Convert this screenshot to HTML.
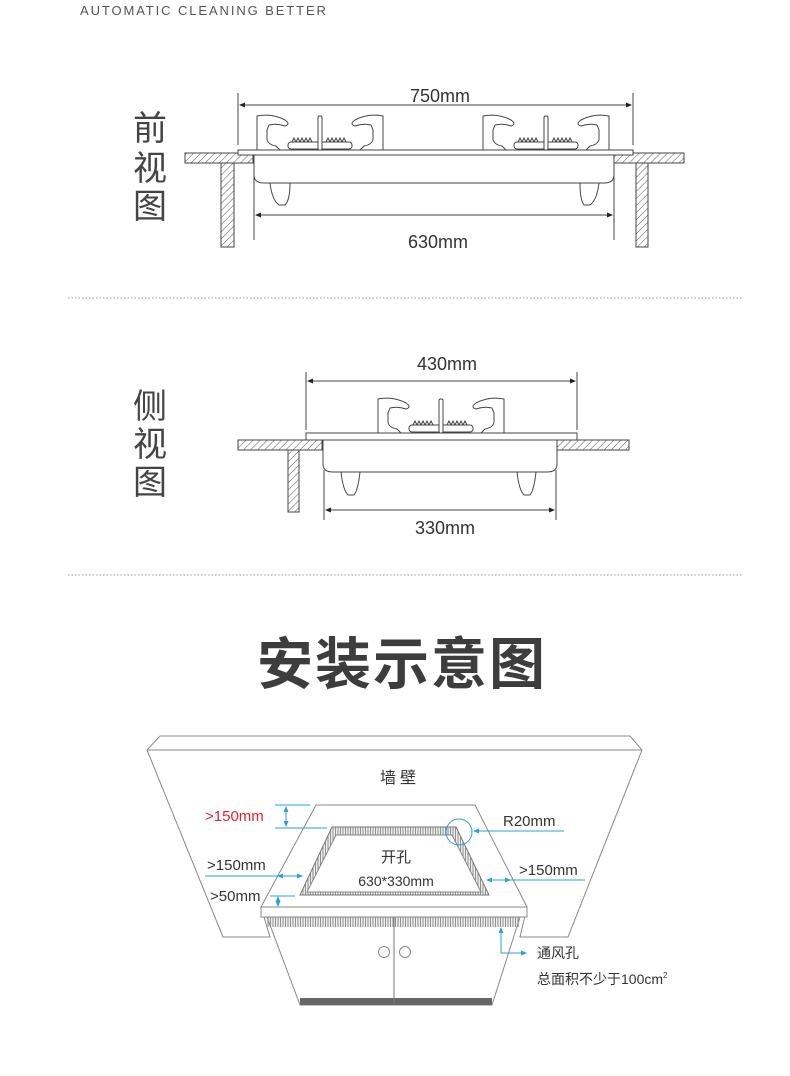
<!DOCTYPE html>
<html><head><meta charset="utf-8"><style>
html,body{margin:0;padding:0;background:#fff;}
svg{display:block;}
text{font-family:"Liberation Sans","Noto Sans CJK SC",sans-serif;}
</style></head><body>
<svg width="790" height="1076" viewBox="0 0 790 1076" xmlns="http://www.w3.org/2000/svg">
<defs>
<pattern id="h" width="5" height="5" patternUnits="userSpaceOnUse" patternTransform="rotate(45)">
<rect width="5" height="5" fill="#fff"/><line x1="0" y1="0" x2="0" y2="5" stroke="#555" stroke-width="1"/></pattern>
<pattern id="v" width="2.5" height="4" patternUnits="userSpaceOnUse">
<rect width="2.5" height="4" fill="#eee"/><line x1="0.5" y1="0" x2="0.5" y2="4" stroke="#777" stroke-width="0.8"/></pattern>
<marker id="a" markerWidth="6" markerHeight="6" refX="5" refY="3" orient="auto-start-reverse" markerUnits="userSpaceOnUse"><path d="M0,0.5 L6,3 L0,5.5Z" fill="#222"/></marker>
<marker id="b" markerWidth="6" markerHeight="6" refX="5" refY="3" orient="auto-start-reverse" markerUnits="userSpaceOnUse"><path d="M0,0.5 L6,3 L0,5.5Z" fill="#2aa0e0"/></marker>
<g id="burner" fill="#fff" stroke="#444" stroke-width="1">
<path d="M-63,0 L-63,-34 Q-48,-37 -35,-30 Q-29,-26 -35,-24 Q-43,-27 -51,-25 L-53,-20 L-53,-10 Q-51,-5 -44,-4 L-40,0 Z"/>
<path d="M63,0 L63,-34 Q48,-37 35,-30 Q29,-26 35,-24 Q43,-27 51,-25 L53,-20 L53,-10 Q51,-5 44,-4 L40,0 Z"/>
<path d="M-28,-8 l2,-4 l2,4 l2,-4 l2,4 l2,-4 l2,4 l2,-4 l2,4 l2,-4 l2,4 M6,-8 l2,-4 l2,4 l2,-4 l2,4 l2,-4 l2,4 l2,-4 l2,4 l2,-4 l2,4" fill="none"/>
<rect x="-32" y="-8" width="64" height="7" rx="3"/>
<rect x="-2" y="-34" width="4" height="34" rx="1.5"/>
</g>
</defs>

<text x="80" y="15" font-size="13" fill="#555" letter-spacing="1.9">AUTOMATIC CLEANING BETTER</text>

<text font-size="34" fill="#444" text-anchor="middle"><tspan x="150" y="140">前</tspan><tspan x="150" y="180">视</tspan><tspan x="150" y="218">图</tspan></text>
<g stroke="#444" stroke-width="1" fill="none">
<line x1="238" y1="93" x2="238" y2="145"/><line x1="633" y1="93" x2="633" y2="145"/>
<line x1="240" y1="105" x2="631" y2="105" marker-start="url(#a)" marker-end="url(#a)"/>
<line x1="254" y1="170" x2="254" y2="240"/><line x1="614" y1="170" x2="614" y2="240"/>
<line x1="256" y1="215" x2="612" y2="215" marker-start="url(#a)" marker-end="url(#a)"/>
</g>
<text x="440" y="102" font-size="18" fill="#333" text-anchor="middle">750mm</text>
<text x="438" y="248" font-size="18" fill="#333" text-anchor="middle">630mm</text>
<g stroke="#444" stroke-width="1">
<rect x="185" y="153" width="68" height="10" fill="url(#h)"/>
<rect x="614" y="153" width="70" height="10" fill="url(#h)"/>
<rect x="221" y="163" width="13" height="84" fill="url(#h)"/>
<rect x="636" y="163" width="12" height="84" fill="url(#h)"/>
<path d="M254,155 L614,155 L614,175 Q614,183 604,183 L264,183 Q254,183 254,175Z" fill="#fff"/>
<path d="M270,183 L290,183 Q290,200 285,205 L279,205 Q272,200 270,183Z" fill="#fff"/>
<path d="M580,183 L599,183 Q597,200 590,205 L584,205 Q580,200 580,183Z" fill="#fff"/>
<rect x="238" y="150" width="395" height="5" fill="#fff"/>
</g>
<use href="#burner" x="320" y="150"/>
<use href="#burner" x="546" y="150"/>

<line x1="68" y1="298" x2="742" y2="298" stroke="#999" stroke-dasharray="1.5,2"/>

<text font-size="34" fill="#444" text-anchor="middle"><tspan x="150" y="418">侧</tspan><tspan x="150" y="456">视</tspan><tspan x="150" y="494">图</tspan></text>
<g stroke="#444" stroke-width="1" fill="none">
<line x1="306" y1="372" x2="306" y2="430"/><line x1="577" y1="372" x2="577" y2="430"/>
<line x1="308" y1="381" x2="575" y2="381" marker-start="url(#a)" marker-end="url(#a)"/>
<line x1="324" y1="470" x2="324" y2="520"/><line x1="556" y1="470" x2="556" y2="520"/>
<line x1="326" y1="510" x2="554" y2="510" marker-start="url(#a)" marker-end="url(#a)"/>
</g>
<text x="447" y="370" font-size="18" fill="#333" text-anchor="middle">430mm</text>
<text x="445" y="534" font-size="18" fill="#333" text-anchor="middle">330mm</text>
<g stroke="#444" stroke-width="1">
<rect x="238" y="440" width="84" height="10" fill="url(#h)"/>
<rect x="557" y="440" width="72" height="10" fill="url(#h)"/>
<rect x="288" y="450" width="11" height="62" fill="url(#h)"/>
<path d="M323,440 L557,440 L557,464 Q557,472 547,472 L333,472 Q323,472 323,464Z" fill="#fff"/>
<path d="M341,472 L360,472 Q358,490 354,495 L348,495 Q343,490 341,472Z" fill="#fff"/>
<path d="M517,472 L536,472 Q534,490 530,495 L524,495 Q519,490 517,472Z" fill="#fff"/>
<rect x="306" y="433" width="271" height="7" fill="#fff"/>
</g>
<use href="#burner" x="441" y="433"/>

<line x1="68" y1="575" x2="742" y2="575" stroke="#999" stroke-dasharray="1.5,2"/>

<text x="402" y="684" font-size="56" font-weight="bold" fill="#3d3d3d" text-anchor="middle" letter-spacing="2">安装示意图</text>

<g stroke="#888" stroke-width="1" fill="#fff">
<path d="M147,750 L160,736 L630,736 L642,750 L568,937 L520,937 L527,907 L261,907 L270,937 L223,937 Z"/>
<line x1="147" y1="750" x2="642" y2="750"/>
<path d="M316,805 L475,805 L527,907 L261,907 Z"/>
<path d="M261,907 L527,907 L527,917 L261,917Z" fill="#fff"/>
<rect x="267" y="917" width="253" height="10" fill="url(#v)" stroke="none"/>
<path d="M267,917 L520,917 L492,1005 L300,1005 Z" fill="none"/>
<rect x="300" y="998" width="192" height="7" fill="#666" stroke="none"/>
<line x1="394" y1="917" x2="394" y2="1005" stroke="#777"/>
<circle cx="384" cy="952" r="5.5"/><circle cx="405" cy="952" r="5.5"/>
<path d="M332,827 L456,827 L489,895 L300,895 Z" fill="url(#v)" stroke="#777"/>
<path d="M336,835 L452,835 L481,892 L307,892 Z" fill="#fff" stroke="#888"/>
</g>
<text x="400" y="783" font-size="16" fill="#333" text-anchor="middle" letter-spacing="4">墙壁</text>
<text x="396" y="862" font-size="15" fill="#333" text-anchor="middle">开孔</text>
<text x="396" y="886" font-size="14" fill="#333" text-anchor="middle">630*330mm</text>
<g stroke="#2aa0e0" stroke-width="1" fill="none">
<line x1="275" y1="805" x2="310" y2="805"/><line x1="275" y1="828" x2="327" y2="828"/>
<line x1="286" y1="807" x2="286" y2="826" marker-start="url(#b)" marker-end="url(#b)"/>
<circle cx="459" cy="832" r="13"/>
<line x1="474" y1="831" x2="564" y2="831"/>
<line x1="488" y1="831" x2="474" y2="831" marker-end="url(#b)"/>
<line x1="205" y1="876" x2="302" y2="876" /><line x1="278" y1="876" x2="302" y2="876" marker-start="url(#b)" marker-end="url(#b)"/>
<line x1="487" y1="880" x2="585" y2="880"/><line x1="487" y1="880" x2="510" y2="880" marker-start="url(#b)" marker-end="url(#b)"/>
<line x1="270" y1="896" x2="295" y2="896"/>
<line x1="278" y1="897" x2="278" y2="906" marker-start="url(#b)" marker-end="url(#b)"/>
<path d="M501,930 L501,953 L526,953" marker-end="url(#b)"/>
<line x1="501" y1="940" x2="501" y2="928" marker-end="url(#b)"/>
</g>
<text x="205" y="821" font-size="15" fill="#e0242c">&gt;150mm</text>
<text x="503" y="826" font-size="15" fill="#333">R20mm</text>
<text x="207" y="870" font-size="15" fill="#333">&gt;150mm</text>
<text x="210" y="901" font-size="15" fill="#333">&gt;50mm</text>
<text x="519" y="875" font-size="15" fill="#333">&gt;150mm</text>
<text x="537" y="958" font-size="14" fill="#333">通风孔</text>
<text x="537" y="984" font-size="14" fill="#333">总面积不少于100cm<tspan font-size="8" dy="-6">2</tspan></text>
</svg>
</body></html>
